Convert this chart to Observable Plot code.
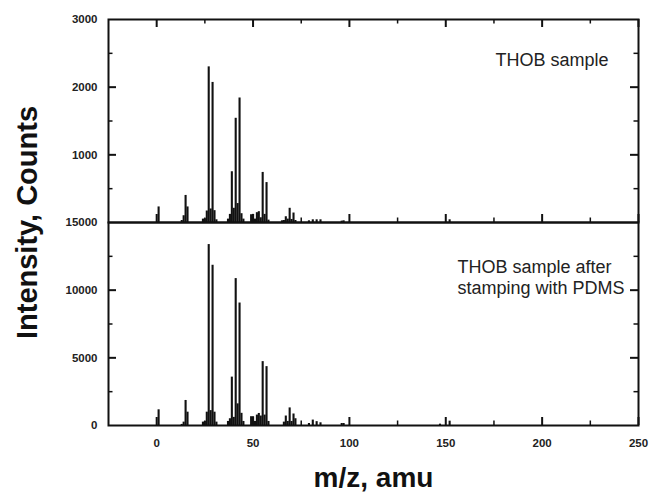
<!DOCTYPE html>
<html><head><meta charset="utf-8">
<script src="https://cdn.jsdelivr.net/npm/d3@7"></script>
<script src="https://cdn.jsdelivr.net/npm/@observablehq/plot@0.6"></script>
<style>
body{margin:0;background:#fff;}
#wrap{position:relative;width:653px;height:493px;overflow:hidden;}
#wrap svg{position:absolute;left:0;overflow:visible;background:transparent;}
</style></head><body><div id="wrap"></div>
<script>
// m/z values and intensities (counts) — top: THOB sample
const mzTop = [1,13,14,15,16,24,25,26,27,28,29,30,31,37,38,39,40,41,42,43,44,45,49,50,51,52,53,54,55,56,57,58,65,66,67,68,69,70,71,72,79,81,83,85,96,97,152];
const intensityTop = [230,30,100,400,230,50,55,170,2300,200,2070,175,40,50,120,750,210,1540,280,1840,130,50,115,120,50,145,160,70,740,120,590,35,25,30,85,50,210,45,140,30,25,40,40,40,20,25,40];
// bottom: THOB sample after stamping with PDMS
const mzBottom = [1,13,14,15,16,24,25,26,27,28,29,30,31,37,38,39,40,41,42,43,44,45,49,50,51,52,53,54,55,56,57,58,66,67,68,69,70,71,72,79,81,83,85,96,97,147,152];
const intensityBottom = [1160,80,250,1850,985,250,300,985,13370,1100,11840,985,250,300,500,3575,600,10855,1600,9050,900,300,650,650,300,770,890,700,4720,770,4350,300,250,700,300,1300,300,850,500,150,400,285,200,150,150,100,320];

const xMajor = [0,50,100,150,200,250];
const xMinor = [25,75,125,175,225];
const yTopLabels = [1000,2000,3000];
const yTopMajor = [1000,2000];
const yTopMinor = [500,1500,2500];
const yBotLabels = [0,5000,10000,15000];
const yBotMajor = [5000,10000];
const yBotMinor = [2500,7500,12500];
const topLabel = "THOB sample";
const bottomLabel = "THOB sample after\nstamping with PDMS";
const xTitle = "m/z, amu";
const yTitle = "Intensity, Counts";

const topData = mzTop.map((m,i)=>({m, v:intensityTop[i]}));
const botData = mzBottom.map((m,i)=>({m, v:intensityBottom[i]}));

const W = 653, ML = 108, MR = 15, PW = W-ML-MR, PH = 203;
const ink = "#111";
const barW = 2.1;
const font = {fontFamily:"'Liberation Sans', Arial, sans-serif", fontSize:"11.5px", fontWeight:"bold", color:"#222", background:"transparent", overflow:"visible"};
const fmt = d3.format("d");

function ticks(yMajor, yMinor, topTicks){
  const marks = [
    Plot.ruleY(yMajor, {stroke:ink, strokeWidth:2, insetRight:PW-8}),
    Plot.ruleY(yMajor, {stroke:ink, strokeWidth:2, insetLeft:PW-8}),
    Plot.ruleY(yMinor, {stroke:ink, strokeWidth:1.5, insetRight:PW-4.5}),
    Plot.ruleY(yMinor, {stroke:ink, strokeWidth:1.5, insetLeft:PW-4.5}),
    Plot.ruleX(xMajor, {stroke:ink, strokeWidth:2, insetTop:PH-8}),
    Plot.ruleX(xMinor, {stroke:ink, strokeWidth:1.5, insetTop:PH-4.5})
  ];
  if (topTicks) {
    marks.push(Plot.ruleX(xMajor, {stroke:ink, strokeWidth:2, insetBottom:PH-8}));
    marks.push(Plot.ruleX(xMinor, {stroke:ink, strokeWidth:1.5, insetBottom:PH-4.5}));
  }
  return marks;
}

const topPlot = Plot.plot({
  width: W, height: 19+PH, marginLeft: ML, marginRight: MR, marginTop: 19, marginBottom: 0,
  style: font,
  x: {domain:[-25,250], axis:null},
  y: {domain:[0,3000]},
  marks: [
    Plot.ruleX(topData, {x:"m", y1:0, y2:"v", stroke:ink, strokeWidth:barW}),
    ...ticks(yTopMajor, yTopMinor, true),
    Plot.axisY(yTopLabels, {tickSize:0, tickPadding:11, tickFormat:fmt, fontWeight:"bold", fontSize:11.5, fill:"#222", label:null}),
    Plot.text([topLabel], {frameAnchor:"top-right", dx:-30, dy:46, textAnchor:"end", lineAnchor:"bottom", fontSize:18, fontWeight:"normal", fill:"#222"}),
    Plot.frame({stroke:ink, strokeWidth:2})
  ]
});

const botPlot = Plot.plot({
  width: W, height: 271, marginLeft: ML, marginRight: MR, marginTop: 0, marginBottom: 68,
  style: font,
  x: {domain:[-25,250]},
  y: {domain:[0,15000]},
  marks: [
    Plot.ruleX(botData, {x:"m", y1:0, y2:"v", stroke:ink, strokeWidth:barW}),
    ...ticks(yBotMajor, yBotMinor, false),
    Plot.axisY(yBotLabels, {tickSize:0, tickPadding:11, tickFormat:fmt, fontWeight:"bold", fontSize:11.5, fill:"#222", label:null}),
    Plot.axisX(xMajor, {tickSize:0, tickPadding:13, tickFormat:fmt, fontWeight:"bold", fontSize:11.5, fill:"#222", label:null}),
    Plot.text([bottomLabel], {frameAnchor:"top-right", dx:-181, dy:71, textAnchor:"start", lineAnchor:"bottom", lineHeight:1.12, fontSize:18, fontWeight:"normal", fill:"#222"}),
    Plot.text([xTitle], {frameAnchor:"bottom", dy:53, lineAnchor:"middle", fontSize:28, fontWeight:"bold", fill:"#111"}),
    Plot.text([yTitle], {frameAnchor:"top-left", dx:-81, rotate:-90, lineAnchor:"middle", textAnchor:"middle", fontSize:29, fontWeight:"bold", fill:"#111"}),
    Plot.frame({stroke:ink, strokeWidth:2})
  ]
});

const wrap = document.getElementById("wrap");
topPlot.style.top = "0px";
botPlot.style.top = (19+PH)+"px";
wrap.appendChild(topPlot);
wrap.appendChild(botPlot);
</script></body></html>
